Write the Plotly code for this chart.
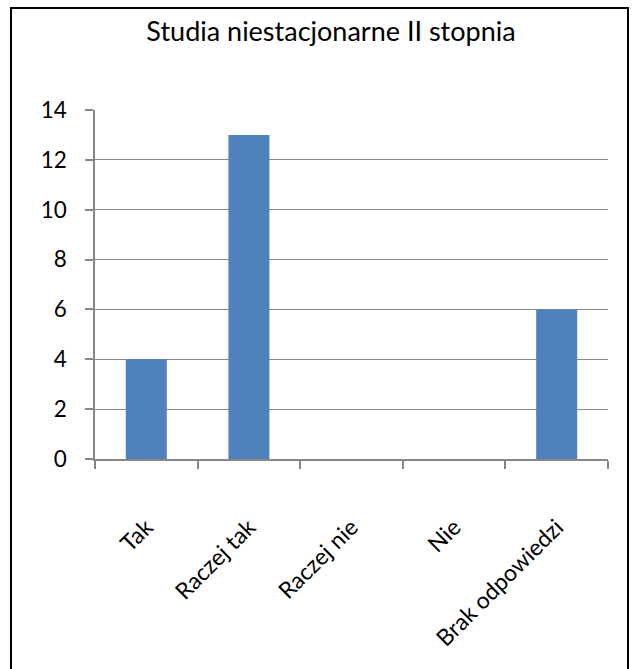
import plotly.graph_objects as go

categories = ["Tak", "Raczej tak", "Raczej nie", "Nie", "Brak odpowiedzi"]
values = [4, 13, 0, 0, 6]
y_ticks = [0, 2, 4, 6, 8, 10, 12, 14]
title_text = "Studia niestacjonarne II stopnia"

W, H = 636, 669
L, R, T, B = 95, 28, 110, 210
pw, ph = W - L - R, H - T - B

def px_x(p):
    return (p - L) / pw

def px_y(p):
    return (H - B - p) / ph

fig = go.Figure()
fig.add_trace(go.Bar(x=categories, y=values, marker=dict(color="#4F81BD", line=dict(width=0)),
                     width=0.40, hoverinfo="skip"))

fig.update_layout(
    width=W, height=H,
    margin=dict(l=L, r=R, t=T, b=B),
    paper_bgcolor="white", plot_bgcolor="white",
    font=dict(family="Lato, Carlito, Calibri, sans-serif", color="black", size=22),
    title=dict(text=title_text, x=px_x(331), xref="paper", xanchor="center",
               y=1 - 32 / H, yanchor="middle", font=dict(size=27)),
    showlegend=False,
    xaxis=dict(type="category", tickangle=-45, showgrid=False, showline=True,
               linecolor="#878787", linewidth=1.5, ticks="outside", tickson="boundaries",
               ticklen=8, tickcolor="#878787", tickwidth=1.5,
               ticklabelstandoff=44, tickfont=dict(size=23)),
    yaxis=dict(range=[0, 14], tickvals=y_ticks, showgrid=True, gridcolor="#878787",
               gridwidth=1, showline=True, linecolor="#878787", linewidth=1.5,
               ticks="outside", ticklen=8, tickcolor="#878787", tickwidth=1.5,
               zeroline=False, ticklabelstandoff=14, tickfont=dict(size=22.5)),
)

fig.add_shape(type="rect", xref="paper", yref="paper",
              x0=px_x(11), x1=px_x(628), y0=px_y(700), y1=px_y(8),
              line=dict(color="black", width=2), fillcolor="rgba(0,0,0,0)", layer="above")

fig.write_html("out.html", config={"displayModeBar": False},
               post_script="document.body.style.margin='0';")
